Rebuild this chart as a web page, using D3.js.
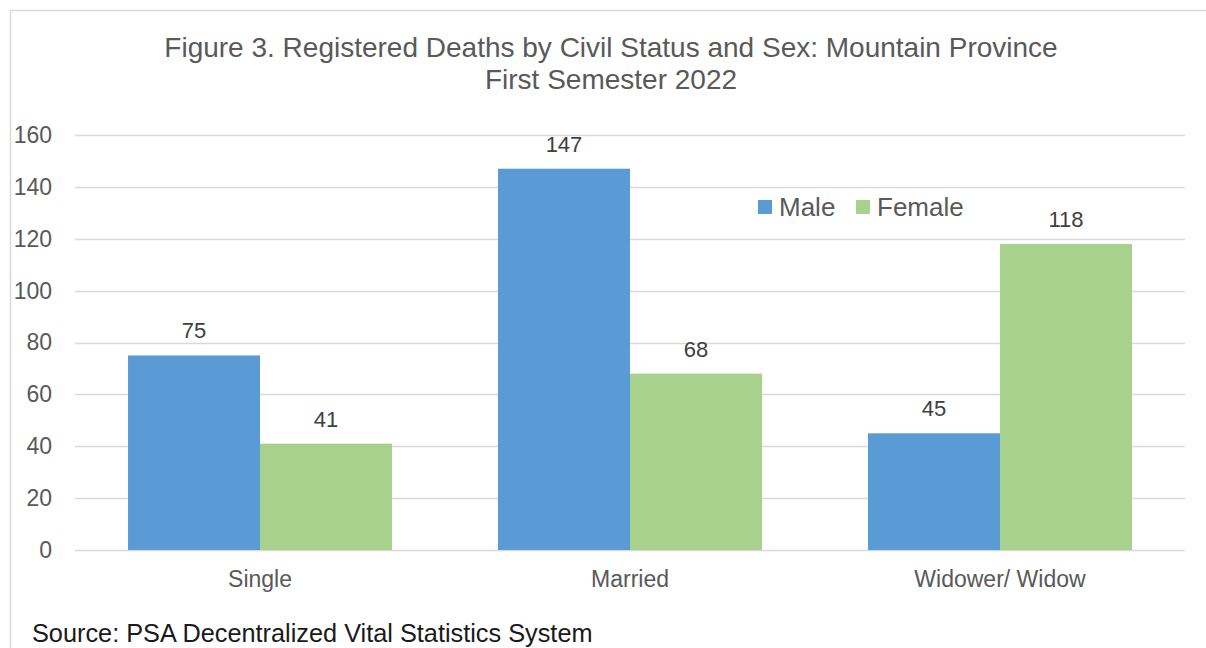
<!DOCTYPE html>
<html><head><meta charset="utf-8">
<script src="https://cdn.jsdelivr.net/npm/d3@7"></script>
<style>html,body{margin:0;padding:0;background:#fff;}svg{display:block;font-family:"Liberation Sans",Arial,sans-serif;}</style>
</head><body>
<svg id="c" width="1206" height="648"></svg>
<script>
const categories = ["Single", "Married", "Widower/ Widow"];
const seriesNames = ["Male", "Female"];
const maleValues = [75, 147, 45];
const femaleValues = [41, 68, 118];
const yTicks = [0, 20, 40, 60, 80, 100, 120, 140, 160];
const colors = ["#5B9BD5", "#A9D18E"];

const svg = d3.select("#c");
svg.append("rect").attr("x", 10.5).attr("y", 10.5).attr("width", 1220).attr("height", 700)
  .attr("fill", "#fff").attr("stroke", "#d9d9d9").attr("stroke-width", 1.5);

const plotLeft = 75, plotRight = 1185, plotTop = 135, plotBottom = 550;
const y = d3.scaleLinear().domain([0, 160]).range([plotBottom, plotTop]);
const x0 = d3.scaleBand().domain(categories).range([plotLeft, plotRight]).paddingInner(0.2865).paddingOuter(0.1433);
const x1 = d3.scaleBand().domain(seriesNames).range([0, x0.bandwidth()]);

// gridlines
svg.append("g").selectAll("line").data(yTicks).join("line")
  .attr("x1", plotLeft).attr("x2", plotRight)
  .attr("y1", d => Math.round(y(d)) + 0.5).attr("y2", d => Math.round(y(d)) + 0.5)
  .attr("stroke", "#d9d9d9").attr("stroke-width", 1.5);

// y axis labels
const yAxis = d3.axisLeft(y).tickValues(yTicks).tickSize(0).tickPadding(0);
const ya = svg.append("g").attr("transform", `translate(52,0)`).call(yAxis);
ya.select(".domain").remove();
ya.selectAll("text").attr("font-size", 23).attr("fill", "#595959").attr("font-family", "Liberation Sans, Arial, sans-serif");

const data = categories.map((c, i) => ({cat: c, vals: [maleValues[i], femaleValues[i]]}));
const groups = svg.append("g").selectAll("g").data(data).join("g")
  .attr("transform", d => `translate(${x0(d.cat)},0)`);
groups.selectAll("rect").data(d => d.vals.map((v, j) => ({s: seriesNames[j], v, j}))).join("rect")
  .attr("x", d => x1(d.s)).attr("width", x1.bandwidth())
  .attr("y", d => y(d.v)).attr("height", d => y(0) - y(d.v))
  .attr("fill", d => colors[d.j]);
groups.selectAll("text").data(d => d.vals.map((v, j) => ({s: seriesNames[j], v, j}))).join("text")
  .attr("x", d => x1(d.s) + x1.bandwidth() / 2).attr("y", d => y(d.v) - 17)
  .attr("text-anchor", "middle").attr("font-size", 22).attr("fill", "#404040").text(d => d.v);

// x axis labels
const xAxis = d3.axisBottom(x0).tickSize(0).tickPadding(0);
const xa = svg.append("g").attr("transform", `translate(0,${plotBottom + 21})`).call(xAxis);
xa.select(".domain").remove();
xa.selectAll("text").attr("font-size", 23).attr("fill", "#595959").attr("font-family", "Liberation Sans, Arial, sans-serif");

// title
const title = svg.append("text").attr("text-anchor", "middle").attr("font-size", 28).attr("fill", "#595959");
title.append("tspan").attr("x", 611).attr("y", 57).text("Figure 3. Registered Deaths by Civil Status and Sex: Mountain Province");
title.append("tspan").attr("x", 611).attr("y", 89).text("First Semester 2022");

// legend
const legend = svg.append("g");
const lx = [758, 856];
seriesNames.forEach((s, i) => {
  legend.append("rect").attr("x", lx[i]).attr("y", 200).attr("width", 14).attr("height", 14).attr("fill", colors[i]);
  legend.append("text").attr("x", lx[i] + 21).attr("y", 216).attr("font-size", 26).attr("fill", "#595959").text(s);
});

// source
svg.append("text").attr("x", 32).attr("y", 642).attr("font-size", 25.3).attr("fill", "#1a1a1a")
  .text("Source: PSA Decentralized Vital Statistics System");
</script>
</body></html>
